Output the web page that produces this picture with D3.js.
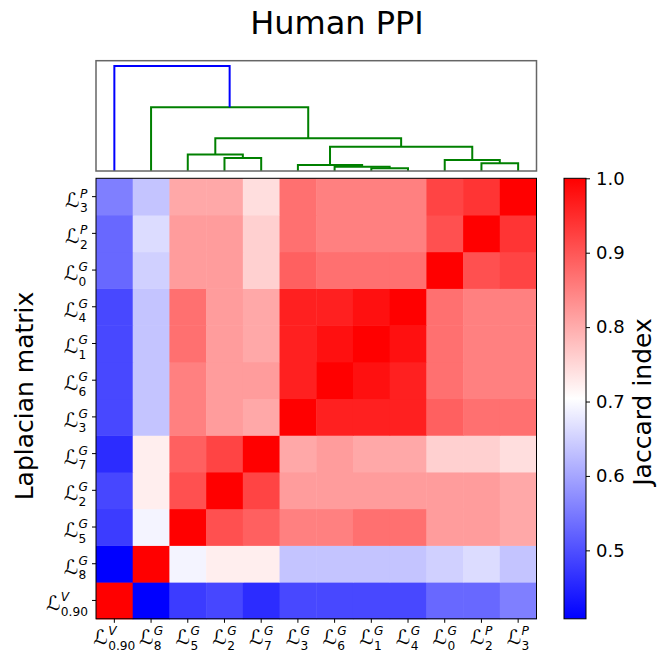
<!DOCTYPE html>
<html>
<head>
<meta charset="utf-8">
<script src="https://cdn.jsdelivr.net/npm/d3@7"></script>
<style>
  body { margin: 0; background: #fff; }
  text { font-family: "DejaVu Sans", sans-serif; fill: #000; }
</style>
</head>
<body>
<svg id="chart"></svg>
<script>
// leaf order of the dendrogram (left to right, and bottom to top on the y axis)
var leafSup = ["V", "G", "G", "G", "G", "G", "G", "G", "G", "G", "P", "P"];
var leafSub = ["0.90", "8", "5", "2", "7", "3", "6", "1", "4", "0", "2", "3"];

// Jaccard index matrix, rows/cols in leaf order
var jaccard = [
  [1.000, 0.408, 0.478, 0.490, 0.459, 0.492, 0.492, 0.492, 0.492, 0.529, 0.529, 0.555],
  [0.408, 1.000, 0.691, 0.724, 0.724, 0.636, 0.636, 0.636, 0.636, 0.649, 0.663, 0.636],
  [0.478, 0.691, 1.000, 0.907, 0.889, 0.851, 0.851, 0.870, 0.870, 0.819, 0.819, 0.805],
  [0.490, 0.724, 0.907, 1.000, 0.921, 0.819, 0.819, 0.819, 0.819, 0.819, 0.819, 0.805],
  [0.459, 0.724, 0.889, 0.921, 1.000, 0.805, 0.819, 0.805, 0.805, 0.759, 0.759, 0.742],
  [0.492, 0.636, 0.851, 0.819, 0.805, 1.000, 0.963, 0.963, 0.963, 0.889, 0.870, 0.870],
  [0.492, 0.636, 0.851, 0.819, 0.819, 0.963, 1.000, 0.981, 0.963, 0.870, 0.851, 0.851],
  [0.492, 0.636, 0.870, 0.819, 0.805, 0.963, 0.981, 1.000, 0.981, 0.870, 0.851, 0.851],
  [0.492, 0.636, 0.870, 0.819, 0.805, 0.963, 0.963, 0.981, 1.000, 0.870, 0.851, 0.851],
  [0.529, 0.649, 0.819, 0.819, 0.759, 0.889, 0.870, 0.870, 0.870, 1.000, 0.907, 0.921],
  [0.529, 0.663, 0.819, 0.819, 0.759, 0.870, 0.851, 0.851, 0.851, 0.907, 1.000, 0.940],
  [0.555, 0.636, 0.805, 0.805, 0.742, 0.870, 0.851, 0.851, 0.851, 0.921, 0.940, 1.000]
];

// linkage: [left node, right node, height]; nodes 0-11 are leaves, 12+ are merges in order
var linkage = [
  [7, 8, 0.025],
  [6, 12, 0.041],
  [5, 13, 0.057],
  [10, 11, 0.073],
  [9, 15, 0.105],
  [3, 4, 0.124],
  [2, 17, 0.156],
  [14, 16, 0.232],
  [18, 19, 0.311],
  [1, 20, 0.606],
  [0, 21, 1.000]
];

var cbarTicks = [0.5, 0.6, 0.7, 0.8, 0.9, 1.0];

var svgWidth = 657, svgHeight = 654;
var heat = { left: 96, top: 178.3, size: 440.5 };
var dendro = { top: 60.7, bottom: 171 };
var cbar = { left: 564, width: 22 };
var fsBase = 20, fsScript = 12.2;

var svg = d3.select("#chart")
  .attr("width", svgWidth)
  .attr("height", svgHeight);

var n = leafSub.length;
var idx = d3.range(n);

var xScale = d3.scaleBand().domain(idx).range([heat.left, heat.left + heat.size]);
// leaf 0 at the bottom
var yScale = d3.scaleBand().domain(idx).range([heat.top + heat.size, heat.top]);

var allVals = [].concat.apply([], jaccard);
var vmin = d3.min(allVals), vmax = d3.max(allVals);
var color = d3.scaleLinear()
  .domain([vmin, (vmin + vmax) / 2, vmax])
  .range(["#0000ff", "#ffffff", "#ff0000"]);

// title
svg.append("text")
  .attr("x", 337)
  .attr("y", 34)
  .attr("text-anchor", "middle")
  .style("font-size", "32px")
  .text("Human PPI");

// heatmap cells
var cells = [];
jaccard.forEach(function(row, i) {
  row.forEach(function(v, j) { cells.push({ r: i, c: j, v: v }); });
});
svg.append("g").selectAll("rect")
  .data(cells)
  .enter()
  .append("rect")
  .attr("x", function(d) { return xScale(d.c); })
  .attr("y", function(d) { return yScale(d.r); })
  .attr("width", xScale.bandwidth() + 0.5)
  .attr("height", yScale.bandwidth() + 0.5)
  .attr("fill", function(d) { return color(d.v); });

svg.append("rect")
  .attr("x", heat.left).attr("y", heat.top)
  .attr("width", heat.size).attr("height", heat.size)
  .attr("fill", "none").attr("stroke", "#000").attr("stroke-width", 1);

// ticks for the heatmap
var tickG = svg.append("g").attr("stroke", "#000").attr("stroke-width", 1);
idx.forEach(function(i) {
  var cx = xScale(i) + xScale.bandwidth() / 2;
  tickG.append("line").attr("x1", cx).attr("x2", cx)
    .attr("y1", heat.top + heat.size).attr("y2", heat.top + heat.size + 4);
  var cy = yScale(i) + yScale.bandwidth() / 2;
  tickG.append("line").attr("x1", heat.left).attr("x2", heat.left - 4)
    .attr("y1", cy).attr("y2", cy);
});

// L^sup_sub labels, base baseline at y=0
function mathLabel(parent, sup, sub) {
  var g = parent.append("g");
  var base = g.append("text").style("font-size", fsBase + "px").text("\u2112");
  var w = base.node().getComputedTextLength();
  g.append("text").attr("x", w + 0.5).attr("y", -9)
    .style("font-size", fsScript + "px").style("font-style", "italic").text(sup);
  g.append("text").attr("x", w + 0.5).attr("y", 5.5)
    .style("font-size", fsScript + "px").text(sub);
  return g;
}

idx.forEach(function(i) {
  var gx = mathLabel(svg, leafSup[i], leafSub[i]);
  var bx = gx.node().getBBox();
  var cx = xScale(i) + xScale.bandwidth() / 2;
  gx.attr("transform", "translate(" + (cx - bx.x - bx.width / 2) + ",644)");

  var gy = mathLabel(svg, leafSup[i], leafSub[i]);
  var by = gy.node().getBBox();
  var cy = yScale(i) + yScale.bandwidth() / 2;
  gy.attr("transform", "translate(" + (88 - by.x - by.width) + "," + (cy + 10) + ")");
});

// axis label
svg.append("text")
  .attr("transform", "translate(33,396) rotate(-90)")
  .attr("text-anchor", "middle")
  .style("font-size", "25px")
  .text("Laplacian matrix");

// dendrogram
var dY = d3.scaleLinear()
  .domain([0, d3.max(linkage, function(d) { return d[2]; }) * 1.05])
  .range([dendro.bottom, dendro.top]);

var nodeX = idx.map(function(i) { return xScale(i) + xScale.bandwidth() / 2; });
var nodeH = idx.map(function() { return 0; });
linkage.forEach(function(m) {
  nodeX.push((nodeX[m[0]] + nodeX[m[1]]) / 2);
  nodeH.push(m[2]);
});

var dendroG = svg.append("g");
linkage.forEach(function(m, k) {
  var a = m[0], b = m[1];
  var pts = [
    [nodeX[a], dY(nodeH[a])],
    [nodeX[a], dY(m[2])],
    [nodeX[b], dY(m[2])],
    [nodeX[b], dY(nodeH[b])]
  ];
  dendroG.append("path")
    .attr("d", d3.line()(pts))
    .attr("fill", "none")
    .attr("stroke", k === linkage.length - 1 ? "#0000ff" : "#008000")
    .attr("stroke-width", 2);
});

svg.append("rect")
  .attr("x", heat.left).attr("y", dendro.top)
  .attr("width", heat.size).attr("height", dendro.bottom - dendro.top)
  .attr("fill", "none").attr("stroke", "#666").attr("stroke-width", 1.5);

// colorbar
var cbScale = d3.scaleLinear().domain([vmin, vmax]).range([heat.top + heat.size, heat.top]);
var defs = svg.append("defs");
var grad = defs.append("linearGradient")
  .attr("id", "cbgrad")
  .attr("x1", 0).attr("y1", 1).attr("x2", 0).attr("y2", 0);
grad.selectAll("stop")
  .data(color.domain())
  .enter()
  .append("stop")
  .attr("offset", function(d) { return (d - vmin) / (vmax - vmin); })
  .attr("stop-color", function(d) { return color(d); });

svg.append("rect")
  .attr("x", cbar.left).attr("y", heat.top)
  .attr("width", cbar.width).attr("height", heat.size)
  .attr("fill", "url(#cbgrad)")
  .attr("stroke", "#000").attr("stroke-width", 1);

var cbAxis = svg.append("g")
  .attr("transform", "translate(" + (cbar.left + cbar.width) + ",0)")
  .call(d3.axisRight(cbScale).tickValues(cbarTicks).tickSize(4).tickPadding(6)
    .tickFormat(d3.format(".1f")));
cbAxis.select(".domain").remove();
cbAxis.selectAll("text")
  .style("font-size", "18px")
  .style("font-family", "DejaVu Sans, sans-serif");

svg.append("text")
  .attr("transform", "translate(651,402) rotate(-90)")
  .attr("text-anchor", "middle")
  .style("font-size", "25px")
  .text("Jaccard index");
</script>
</body>
</html>
